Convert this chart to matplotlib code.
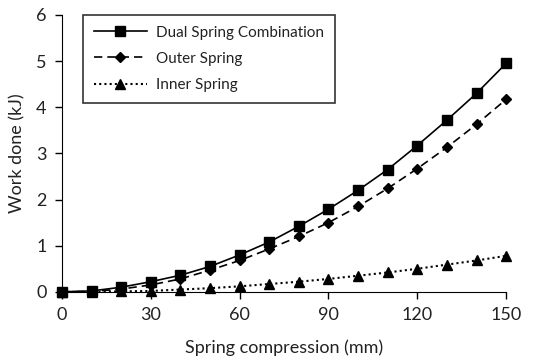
import matplotlib
matplotlib.use("Agg")
import matplotlib.pyplot as plt

plt.rcParams['font.family'] = ['Lato', 'DejaVu Sans']

compression = [0, 10, 20, 30, 40, 50, 60, 70, 80, 90, 100, 110, 120, 130, 140, 150]
dual = [0, 0.02, 0.1, 0.22, 0.36, 0.55, 0.8, 1.08, 1.42, 1.79, 2.2, 2.65, 3.17, 3.72, 4.3, 4.95]
outer = [0, 0.01, 0.06, 0.15, 0.28, 0.47, 0.68, 0.93, 1.2, 1.5, 1.85, 2.24, 2.67, 3.13, 3.63, 4.17]
inner = [0, 0, 0.01, 0.02, 0.05, 0.08, 0.12, 0.17, 0.22, 0.28, 0.35, 0.42, 0.5, 0.59, 0.68, 0.78]

x_ticks = [0, 30, 60, 90, 120, 150]
y_ticks = [0, 1, 2, 3, 4, 5, 6]

fig = plt.figure(figsize=(5.39, 3.63), dpi=100)
ax = fig.add_axes([0.115, 0.196, 0.824, 0.763])

ax.plot(compression, dual, color='black', linestyle='-', linewidth=1.2,
        marker='s', markersize=7.5, label='Dual Spring Combination')
ax.plot(compression, outer, color='black', linestyle=(0, (5, 3)), linewidth=1.2,
        marker='D', markersize=5.5, label='Outer Spring')
ax.plot(compression, inner, color='black', linestyle=(0, (1, 1.5)), linewidth=1.5,
        marker='^', markersize=7, label='Inner Spring')

ax.set_xlim(0, 150)
ax.set_ylim(0, 6)
ax.set_xticks(x_ticks)
ax.set_yticks(y_ticks)
ax.spines['top'].set_visible(False)
ax.spines['right'].set_visible(False)
ax.tick_params(direction='out', labelsize=13, labelcolor='#222222', length=5, width=1, pad=6)
ax.set_xlabel('Spring compression (mm)', fontsize=13, labelpad=12, color='#222222')
ax.set_ylabel('Work done (kJ)', fontsize=13, labelpad=8, color='#222222')

leg = ax.legend(loc='upper left', bbox_to_anchor=(0.047, 1.0), fontsize=11,
                frameon=True, fancybox=False, edgecolor='black',
                handlelength=3.5, handletextpad=0.6, borderpad=0.7,
                labelspacing=0.8, borderaxespad=0)
leg.get_frame().set_linewidth(1.2)
for t in leg.get_texts():
    t.set_color('#222222')

for line in ax.lines:
    line.set_clip_on(False)

fig.savefig('out.png', dpi=100)
